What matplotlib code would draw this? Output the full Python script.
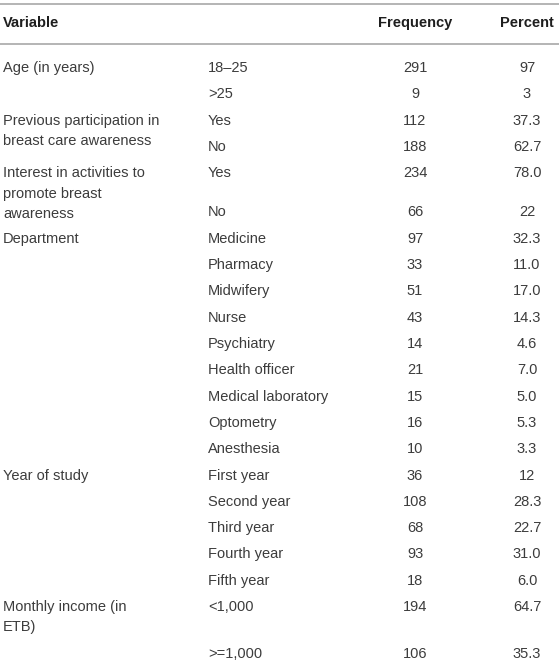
import matplotlib.pyplot as plt

# table content
headers = ["Variable", "", "Frequency", "Percent"]
variables = [
    "Age (in years)",
    "Previous participation in\nbreast care awareness",
    "Interest in activities to\npromote breast\nawareness",
    "Department",
    "Year of study",
    "Monthly income (in\nETB)",
]
group_sizes = [2, 2, 2, 9, 5, 2]
categories = [
    "18–25", ">25",
    "Yes", "No",
    "Yes", "No",
    "Medicine", "Pharmacy", "Midwifery", "Nurse", "Psychiatry",
    "Health officer", "Medical laboratory", "Optometry", "Anesthesia",
    "First year", "Second year", "Third year", "Fourth year", "Fifth year",
    "<1,000", ">=1,000",
]
frequency = [291, 9, 112, 188, 234, 66, 97, 33, 51, 43, 14, 21, 15, 16, 10,
             36, 108, 68, 93, 18, 194, 106]
percent = ["97", "3", "37.3", "62.7", "78.0", "22", "32.3", "11.0", "17.0",
           "14.3", "4.6", "7.0", "5.0", "5.3", "3.3", "12", "28.3", "22.7",
           "31.0", "6.0", "64.7", "35.3"]

W, H = 559, 666
FONT = "Liberation Sans"
BODY = "#3c3c3c"
HEAD = "#1e1e1e"
RULE = "#a8a8a8"

fig = plt.figure(figsize=(W / 100, H / 100), dpi=100)
ax = fig.add_axes([0, 0, 1, 1])
ax.set_xlim(0, W)
ax.set_ylim(H, 0)
ax.axis("off")

col_x = [3, 208, 415, 527]
col_ha = ["left", "left", "center", "center"]

# header and rules
ax.axhline(4, color=RULE, lw=1.2)
ax.axhline(44, color=RULE, lw=1.2)
for x, ha, h in zip(col_x, col_ha, headers):
    ax.text(x, 23, h, ha=ha, va="center", fontsize=10.5, fontweight="bold",
            color=HEAD, family=FONT)

# row positions: base pitch plus extra room for wrapped labels
pitch = 26.3
extra = {5: 13, 21: 21}
row_y = []
y = 68
for i in range(len(categories)):
    if i > 0:
        y += pitch + extra.get(i, 0)
    row_y.append(y)

for i, (cat, f, p) in enumerate(zip(categories, frequency, percent)):
    yy = row_y[i]
    ax.text(col_x[1], yy, cat, ha="left", va="center", fontsize=10.5,
            color=BODY, family=FONT)
    ax.text(col_x[2], yy, str(f), ha="center", va="center", fontsize=10.5,
            color=BODY, family=FONT)
    ax.text(col_x[3], yy, p, ha="center", va="center", fontsize=10.5,
            color=BODY, family=FONT)

start = 0
for var, n in zip(variables, group_sizes):
    y0 = row_y[start]
    for k, line in enumerate(var.split("\n")):
        ax.text(col_x[0], y0 + k * 20.5, line, ha="left", va="center",
                fontsize=10.5, color=BODY, family=FONT)
    start += n

fig.savefig("out.png", dpi=100)
